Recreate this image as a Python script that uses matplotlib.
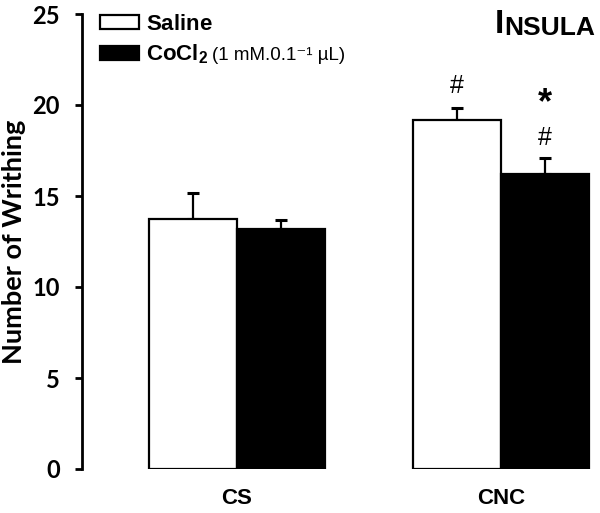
import matplotlib
matplotlib.use("Agg")
import matplotlib.pyplot as plt
import numpy as np

groups = ["CS", "CNC"]
saline = [13.74, 19.18]
saline_err = [1.44, 0.64]
cocl2 = [13.17, 16.21]
cocl2_err = [0.51, 0.89]
yticks = [0, 5, 10, 15, 20, 25]

plt.rcParams['font.family'] = ['Liberation Sans', 'DejaVu Sans']
plt.rcParams['mathtext.fontset'] = 'custom'
plt.rcParams['mathtext.rm'] = 'Liberation Sans'
plt.rcParams['mathtext.bf'] = 'Liberation Sans:bold'
plt.rcParams['mathtext.it'] = 'Liberation Sans:italic'

W, H = 600, 513
fig = plt.figure(figsize=(W/100, H/100), dpi=100)
ax = fig.add_axes([82/W, 1-469/H, (598-82)/W, (469-14)/H])

x = np.arange(len(groups))
bw = 88/264
ax.bar(x - bw/2, saline, bw, color='white', edgecolor='black', linewidth=1.6,
       label=r"$\mathbf{Saline}$", zorder=3)
ax.bar(x + bw/2, cocl2, bw, color='black', edgecolor='black', linewidth=1.6,
       label=r"$\mathbf{CoCl_2}$", zorder=3)
ax.errorbar(x - bw/2, saline, yerr=[np.zeros(2), saline_err], fmt='none',
            ecolor='black', elinewidth=1.6, capsize=4, capthick=2.2, zorder=2)
ax.errorbar(x + bw/2, cocl2, yerr=[np.zeros(2), cocl2_err], fmt='none',
            ecolor='black', elinewidth=1.6, capsize=4, capthick=2.2, zorder=2)

ax.set_xlim(-(237-82)/264, (598-237)/264)
ax.set_ylim(0, 25)
ax.set_yticks(yticks)
ax.set_yticklabels([str(t) for t in yticks], fontsize=17, fontweight='bold',
                   family=['Lato', 'DejaVu Sans'])
ax.set_xticks(x)
ax.set_xticklabels(groups, fontsize=16, fontweight='bold')
ax.tick_params(axis='x', length=0, pad=14)
ax.tick_params(axis='y', length=5, width=2, pad=11)
for s in ['top', 'right', 'bottom']:
    ax.spines[s].set_visible(False)
ax.spines['left'].set_linewidth(2)
ax.set_ylabel("Number of Writhing", fontsize=19.5, fontweight='bold',
              family=['Lato', 'DejaVu Sans'])
ax.yaxis.set_label_coords((26-82)/516, 0.5)

# significance marks
ax.text(x[1] - bw/2, saline[1] + saline_err[1] + 1.2, "#", ha='center', va='center', fontsize=18)
ax.text(x[1] + bw/2, cocl2[1] + cocl2_err[1] + 1.1, "#", ha='center', va='center', fontsize=18)
ax.text(x[1] + bw/2, cocl2[1] + cocl2_err[1] + 3.0, "*", ha='center', va='center', fontsize=26, fontweight='bold')

leg = ax.legend(loc='upper left', bbox_to_anchor=(100/W, 1-14/H), bbox_transform=fig.transFigure,
                frameon=False, fontsize=16, handlelength=1.75, handleheight=0.6,
                handletextpad=0.3, labelspacing=0.35, borderaxespad=0, borderpad=0)
fig.text(212/W, 1-56/H, "(1 mM.0.1⁻¹ µL)", fontsize=13.5, ha='left', va='center',
         family=['Liberation Sans', 'DejaVu Sans'])

t = fig.text(495/W, 1-33/H, "I", fontsize=24, fontweight='bold', ha='left', va='baseline')
ax.annotate("NSULA", xy=(1, 0), xycoords=t, fontsize=19, fontweight='bold', ha='left', va='bottom')

fig.savefig("out.png", dpi=100)
